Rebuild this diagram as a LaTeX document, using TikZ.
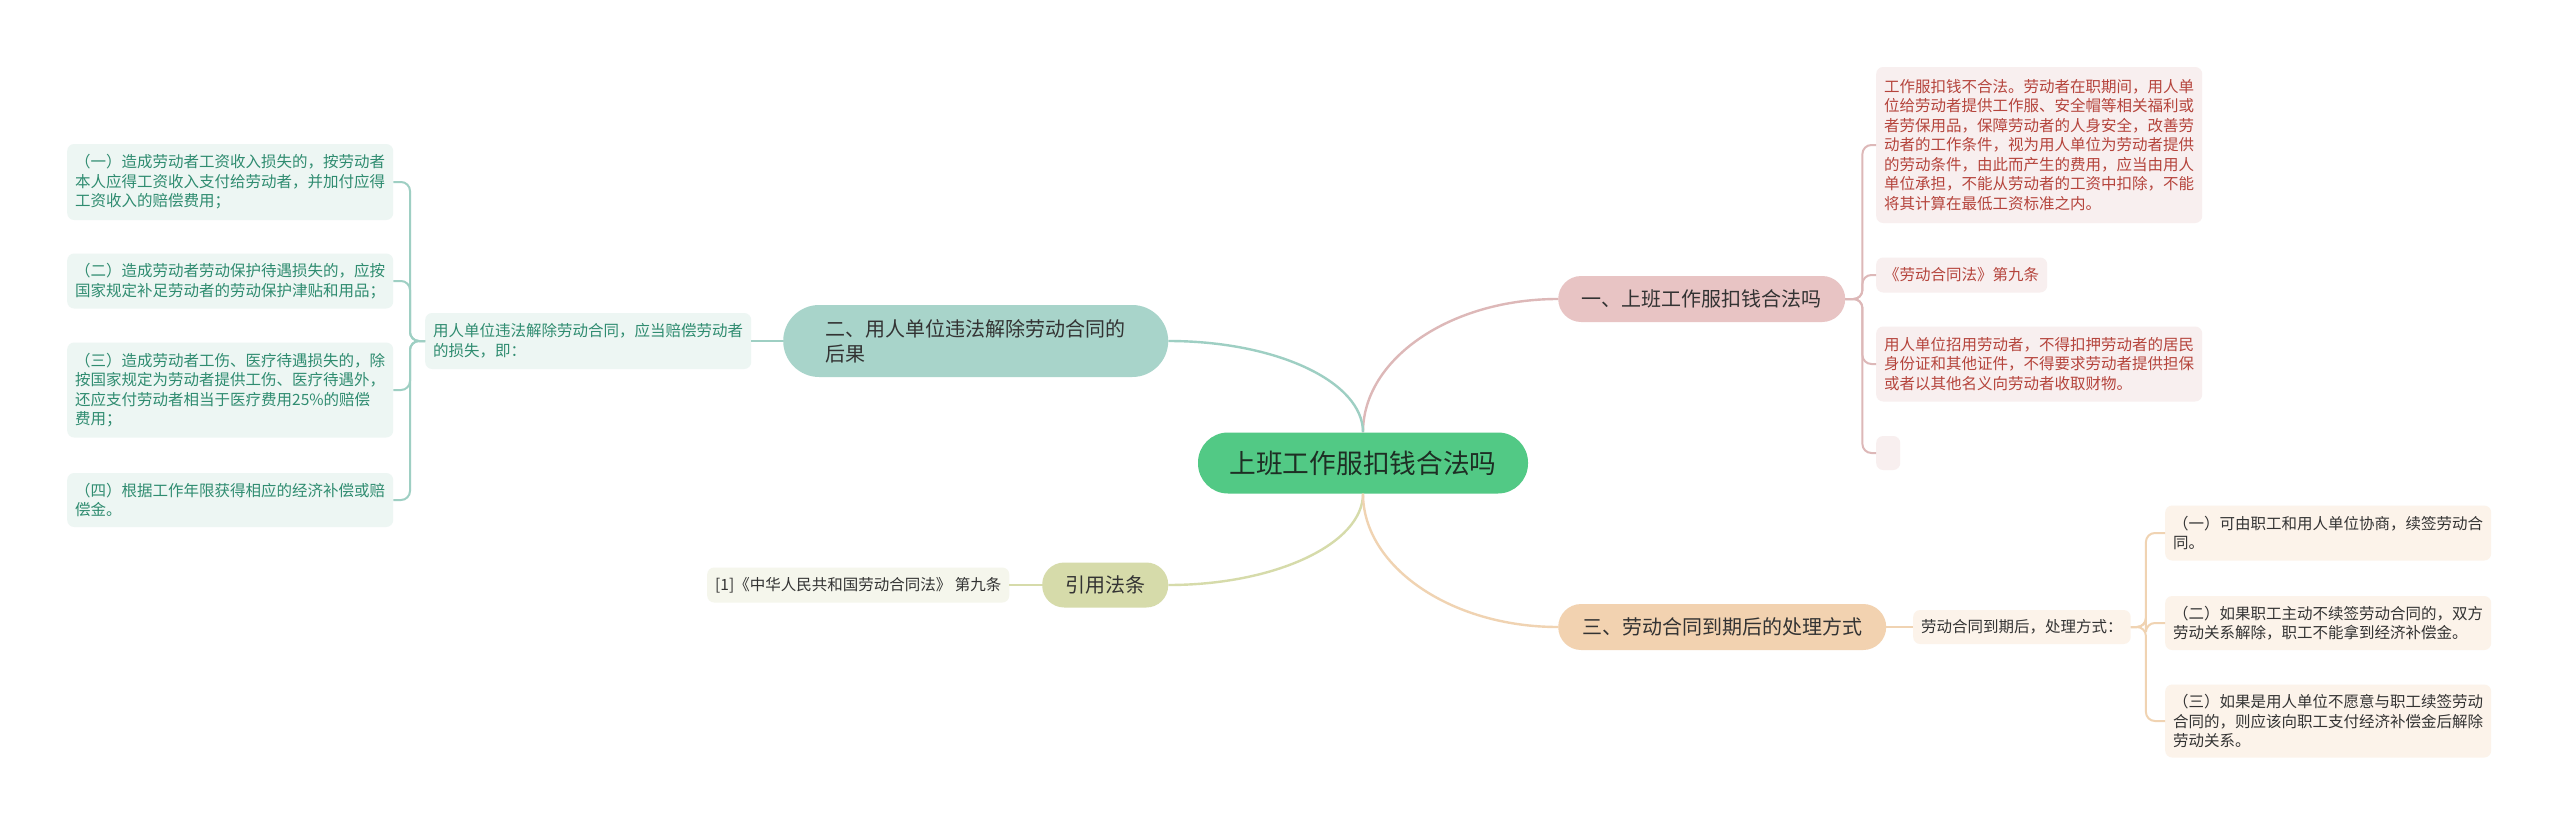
\documentclass[tikz,border=0pt]{standalone}
\usepackage{fontspec}
\setmainfont{Noto Sans CJK SC}
\definecolor{cgreen}{HTML}{52C985}
\definecolor{ctxt}{HTML}{1E2E24}
\definecolor{pinkB}{HTML}{E8C4C4}
\definecolor{pinkL}{HTML}{F8EFEF}
\definecolor{pinkT}{HTML}{B5443C}
\definecolor{pinkC}{HTML}{DDB8B8}
\definecolor{tealB}{HTML}{A8D4CA}
\definecolor{tealL}{HTML}{EDF6F3}
\definecolor{tealT}{HTML}{2F8C70}
\definecolor{tealC}{HTML}{9ECFC3}
\definecolor{oliveB}{HTML}{D6DBAA}
\definecolor{oliveL}{HTML}{F5F6EC}
\definecolor{oliveC}{HTML}{D6DBAA}
\definecolor{peachB}{HTML}{F2D2B0}
\definecolor{peachL}{HTML}{FCF3EA}
\definecolor{peachC}{HTML}{F0D3B2}
\definecolor{darkT}{HTML}{333333}
\tikzset{
  leaf/.style={rounded corners=7pt, inner xsep=8pt, inner ysep=0pt, align=left, anchor=west,
    font=\fontsize{15.5}{19.5}\selectfont},
  pinkleaf/.style={leaf, fill=pinkL, text=pinkT},
  tealleaf/.style={leaf, fill=tealL, text=tealT},
  oliveleaf/.style={leaf, fill=oliveL, text=darkT},
  peachleaf/.style={leaf, fill=peachL, text=darkT},
  branch/.style={anchor=west, inner xsep=10pt, inner ysep=0pt, text=darkT,
    font=\fontsize{20}{25}\selectfont},
  conn/.style={line width=2.4pt},
  sub/.style={line width=2pt, rounded corners=9pt},
}
\begin{document}
\begin{tikzpicture}[x=1pt,y=-1pt]
\useasboundingbox[fill=white] (0,0) rectangle (2560,827);

% central
\node[fill=cgreen, rounded corners=30pt, minimum width=330, minimum height=61, text=ctxt,
  font=\fontsize{26.7}{32}\selectfont, inner sep=0pt] (c) at (1363,463) {上班工作服扣钱合法吗};

% branches
\node[branch, fill=pinkB, rounded corners=23pt, minimum width=287, minimum height=46] (b1) at (1558,299) {一、上班工作服扣钱合法吗};
\node[branch, fill=tealB, rounded corners=36pt, minimum width=385, minimum height=72, align=left,
  inner xsep=35pt] (b2) at (783,341) {二、用人单位违法解除劳动合同的\\后果};
\node[branch, fill=oliveB, rounded corners=22pt, minimum width=126, minimum height=45] (b3) at (1042,585) {引用法条};
\node[branch, fill=peachB, rounded corners=23pt, minimum width=328, minimum height=46] (b4) at (1558,627) {三、劳动合同到期后的处理方式};

% pink leaves
\node[pinkleaf, minimum height=156] (pA) at (1876,145) {工作服扣钱不合法。劳动者在职期间，用人单\\位给劳动者提供工作服、安全帽等相关福利或\\者劳保用品，保障劳动者的人身安全，改善劳\\动者的工作条件，视为用人单位为劳动者提供\\的劳动条件，由此而产生的费用，应当由用人\\单位承担，不能从劳动者的工资中扣除，不能\\将其计算在最低工资标准之内。};
\node[pinkleaf, minimum height=35] (pB) at (1876,275) {《劳动合同法》第九条};
\node[pinkleaf, minimum height=75] (pC) at (1876,364) {用人单位招用劳动者，不得扣押劳动者的居民\\身份证和其他证件，不得要求劳动者提供担保\\或者以其他名义向劳动者收取财物。};
\node[pinkleaf, minimum height=34, minimum width=24, inner xsep=0pt] (pD) at (1876,453) {};

% teal leaves
\node[tealleaf, minimum height=56] (tm) at (425,341) {用人单位违法解除劳动合同，应当赔偿劳动者\\的损失，即：};
\node[tealleaf, minimum height=76] (t1) at (67,182) {（一）造成劳动者工资收入损失的，按劳动者\\本人应得工资收入支付给劳动者，并加付应得\\工资收入的赔偿费用；};
\node[tealleaf, minimum height=55] (t2) at (67,281) {（二）造成劳动者劳动保护待遇损失的，应按\\国家规定补足劳动者的劳动保护津贴和用品；};
\node[tealleaf, minimum height=95] (t3) at (67,390) {（三）造成劳动者工伤、医疗待遇损失的，除\\按国家规定为劳动者提供工伤、医疗待遇外，\\还应支付劳动者相当于医疗费用25\%的赔偿\\费用；};
\node[tealleaf, minimum height=54] (t4) at (67,500) {（四）根据工作年限获得相应的经济补偿或赔\\偿金。};

% olive leaf
\node[oliveleaf, minimum height=35] (o1) at (707,585) {[1]《中华人民共和国劳动合同法》 第九条};

% peach leaves
\node[peachleaf, minimum height=34] (pm) at (1913,627) {劳动合同到期后，处理方式：};
\node[peachleaf, minimum height=55] (q1) at (2165,533) {（一）可由职工和用人单位协商，续签劳动合\\同。};
\node[peachleaf, minimum height=54] (q2) at (2165,623) {（二）如果职工主动不续签劳动合同的，双方\\劳动关系解除，职工不能拿到经济补偿金。};
\node[peachleaf, minimum height=73] (q3) at (2165,721) {（三）如果是用人单位不愿意与职工续签劳动\\合同的，则应该向职工支付经济补偿金后解除\\劳动关系。};

% main connectors
\draw[conn, pinkC] (c.north) .. controls +(0,-74) and +(-107,0) .. (b1.west);
\draw[conn, tealC] (c.north) .. controls +(0,-51) and +(107,0) .. (b2.east);
\draw[conn, oliveC] (c.south) .. controls +(0,50) and +(107,0) .. (b3.east);
\draw[conn, peachC] (c.south) .. controls +(0,73) and +(-107,0) .. (b4.west);

% pink sub connectors
\foreach \n in {pA,pB,pC,pD}
  \draw[sub, pinkC] (b1.east) -- ++(17,0) |- (\n.west);
% teal
\draw[sub, tealC] (b2.west) -- (tm.east);
\foreach \n in {t1,t2,t3,t4}
  \draw[sub, tealC] (tm.west) -- ++(-15,0) |- (\n.east);
% olive
\draw[sub, oliveC] (b3.west) -- (o1.east);
% peach
\draw[sub, peachC] (b4.east) -- (pm.west);
\foreach \n in {q1,q2,q3}
  \draw[sub, peachC] (pm.east) -- ++(15,0) |- (\n.west);
\end{tikzpicture}
\end{document}
